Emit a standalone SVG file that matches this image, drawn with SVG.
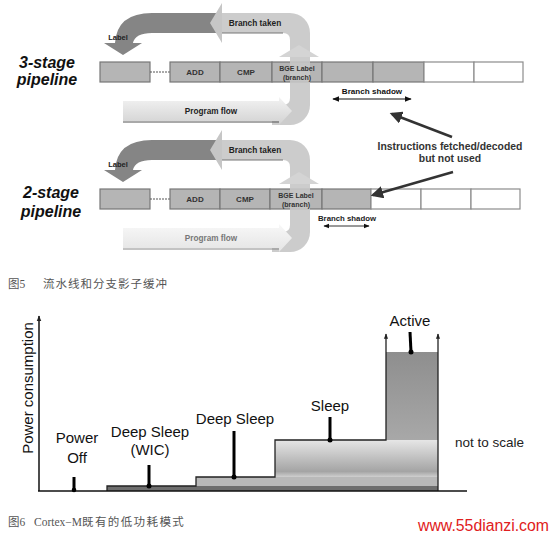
<svg xmlns="http://www.w3.org/2000/svg" width="553" height="537" viewBox="0 0 553 537">
<defs>
  <linearGradient id="pf" x1="0" y1="0" x2="0" y2="1"><stop offset="0" stop-color="#f3f3f3"/><stop offset="1" stop-color="#d2d2d2"/></linearGradient>
  <linearGradient id="pf2" x1="0" y1="0" x2="0" y2="1"><stop offset="0" stop-color="#f8f8f8"/><stop offset="1" stop-color="#e4e4e4"/></linearGradient>
  <linearGradient id="sleepG" x1="0" y1="0" x2="0" y2="1"><stop offset="0" stop-color="#e6e6e6"/><stop offset="0.85" stop-color="#a4a4a4"/><stop offset="1" stop-color="#cfcfcf"/></linearGradient>
  <linearGradient id="actG" x1="0" y1="0" x2="0" y2="1"><stop offset="0" stop-color="#8e8e8e"/><stop offset="1" stop-color="#a8a8a8"/></linearGradient>
  <marker id="ah" viewBox="0 0 10 10" refX="9" refY="5" markerWidth="6" markerHeight="6" orient="auto-start-reverse"><path d="M0,1 L10,5 L0,9 z" fill="#111"/></marker>
  <marker id="ahs" viewBox="0 0 10 10" refX="9" refY="5" markerWidth="4" markerHeight="4" orient="auto-start-reverse"><path d="M0,1 L10,5 L0,9 z" fill="#222"/></marker>
  <marker id="ahb" viewBox="0 0 10 10" refX="8" refY="5" markerWidth="5" markerHeight="5" orient="auto"><path d="M0,0 L10,5 L0,10 z" fill="#333"/></marker>
</defs>
<style>
  .box{fill:#b5b5b5;stroke:#777;stroke-width:1.2}
  .wbox{fill:#fff;stroke:#8c8c8c;stroke-width:1.2}
  .sans{font-family:"Liberation Sans",Arial,sans-serif}
  .b{font-weight:bold}
  .small{font-size:8px;fill:#333;font-weight:bold}
  .big{font-family:"Liberation Sans",Arial,sans-serif;font-weight:bold;font-style:italic;font-size:16px;fill:#111;text-anchor:middle}
  .dark{fill:#858585}
  .light{fill:#c6c6c6}
  .chart{font-family:"Liberation Sans",Arial,sans-serif;font-size:15px;fill:#111;text-anchor:middle}
  .ptr{stroke:#000;stroke-width:3}
  .cap{font-family:"Liberation Serif","Noto Sans CJK SC",serif;font-size:11.5px;fill:#555}
</style>
<rect width="553" height="537" fill="#fff"/>

<!-- ===== 3-stage pipeline ===== -->
<g id="title3">
  <text class="big" x="47" y="68">3-stage</text>
  <text class="big" x="47" y="85">pipeline</text>
</g>
<g id="row3">
  <rect class="box" x="100" y="62" width="50" height="20"/>
  <line x1="150" y1="72" x2="170" y2="72" stroke="#555" stroke-dasharray="2,1"/>
  <rect class="box" x="170" y="62" width="50" height="20"/>
  <rect class="box" x="220" y="62" width="52" height="20"/>
  <rect class="box" x="272" y="62" width="50" height="20"/>
  <rect class="box" x="322" y="62" width="51" height="20"/>
  <rect class="box" x="373" y="62" width="51" height="20"/>
  <rect class="wbox" x="424" y="62" width="50" height="20"/>
  <rect class="wbox" x="474" y="62" width="49" height="20"/>
</g>
<g id="arrows3">
  <path class="dark" d="M216,13 L152,13 Q117,13 115,43 L104,43 L123,55 L142,43 L133,43 Q135,33 152,33 L216,33 Z"/>
  <path class="light" opacity="0.9" d="M221,13 L290,13 A20,20 0 0 1 310,33 L310,105 A20,20 0 0 1 290,125 L272,125 L272,105 L283,105 Q290,105 290,98 L290,40 Q290,33 283,33 L221,33 Z"/>
  <path d="M221,33 L283,33" stroke="#777" stroke-width="1"/>
  <polygon class="light" points="210,23 222,3 222,43"/>
  <polygon fill="#d4d4d4" points="279,57 319,57 299,45"/>
  <path d="M123,101 L279,101 L279,97 L292,111 L279,125 L279,121 L123,121 Z" fill="url(#pf)"/>
  <line x1="123" y1="122" x2="279" y2="122" stroke="#555" stroke-width="1.2"/>
  <text class="sans b" x="118" y="40" font-size="7.5" fill="#222" text-anchor="middle">Label</text>
  <text class="sans b" x="255" y="26" font-size="8.3" fill="#222" text-anchor="middle">Branch taken</text>
  <text class="sans b" x="211" y="114" font-size="8.2" fill="#222" text-anchor="middle">Program flow</text>
</g>
<g id="rowtext3" class="sans small" text-anchor="middle">
  <text x="195" y="75">ADD</text>
  <text x="246" y="75">CMP</text>
  <text x="297" y="71" font-size="7">BGE Label</text>
  <text x="297" y="80" font-size="7">(branch)</text>
</g>
<g id="shadow3">
  <text class="sans b" x="372" y="94" font-size="8.1" fill="#111" text-anchor="middle">Branch shadow</text>
  <line x1="333" y1="99" x2="411" y2="99" stroke="#111" stroke-width="1.2" marker-start="url(#ah)" marker-end="url(#ah)"/>
</g>

<!-- ===== annotation ===== -->
<g id="note">
  <text class="sans b" x="450" y="150" font-size="10.4" fill="#333" text-anchor="middle">Instructions fetched/decoded</text>
  <text class="sans b" x="450" y="162" font-size="10.4" fill="#333" text-anchor="middle">but not used</text>
</g>

<!-- ===== 2-stage pipeline ===== -->
<g id="title2">
  <text class="big" x="51" y="198">2-stage</text>
  <text class="big" x="51" y="217">pipeline</text>
</g>
<g id="row2">
  <rect class="box" x="100" y="189" width="50" height="20"/>
  <line x1="150" y1="199" x2="170" y2="199" stroke="#555" stroke-dasharray="2,1"/>
  <rect class="box" x="170" y="189" width="50" height="20"/>
  <rect class="box" x="220" y="189" width="50" height="20"/>
  <rect class="box" x="270" y="189" width="52" height="20"/>
  <rect class="box" x="322" y="189" width="49" height="20"/>
  <rect class="wbox" x="371" y="189" width="50" height="20"/>
  <rect class="wbox" x="421" y="189" width="50" height="20"/>
  <rect class="wbox" x="471" y="189" width="49" height="20"/>
</g>
<g id="arrows2" transform="translate(0,127)">
  <path class="dark" d="M216,13 L152,13 Q117,13 115,43 L104,43 L123,55 L142,43 L133,43 Q135,33 152,33 L216,33 Z"/>
  <path class="light" opacity="0.9" d="M221,13 L290,13 A20,20 0 0 1 310,33 L310,105 A20,20 0 0 1 290,125 L272,125 L272,105 L283,105 Q290,105 290,98 L290,40 Q290,33 283,33 L221,33 Z"/>
  <path d="M221,33 L283,33" stroke="#777" stroke-width="1"/>
  <polygon class="light" points="210,23 222,3 222,43"/>
  <polygon fill="#d4d4d4" points="279,57 319,57 299,45"/>
  <path d="M123,101 L279,101 L279,97 L292,111 L279,125 L279,121 L123,121 Z" fill="url(#pf2)"/>
  <line x1="123" y1="122" x2="279" y2="122" stroke="#888" stroke-width="1.2"/>
  <text class="sans b" x="118" y="40" font-size="7.5" fill="#222" text-anchor="middle">Label</text>
  <text class="sans b" x="255" y="26" font-size="8.3" fill="#222" text-anchor="middle">Branch taken</text>
  <text class="sans b" x="211" y="114" font-size="8.2" fill="#777" text-anchor="middle">Program flow</text>
</g>
<g id="rowtext2" class="sans small" text-anchor="middle">
  <text x="195" y="202">ADD</text>
  <text x="245" y="202">CMP</text>
  <text x="296" y="198" font-size="7">BGE Label</text>
  <text x="296" y="207" font-size="7">(branch)</text>
</g>
<g id="shadow2">
  <text class="sans b" x="347" y="221" font-size="7.8" fill="#222" text-anchor="middle">Branch shadow</text>
  <line x1="324" y1="226" x2="369" y2="226" stroke="#333" stroke-width="1" marker-start="url(#ah)" marker-end="url(#ah)"/>
</g>

<g id="connectors">
  <line x1="452" y1="137" x2="392" y2="114" stroke="#333" stroke-width="2.5" marker-end="url(#ahb)"/>
  <line x1="453" y1="172" x2="373" y2="195" stroke="#333" stroke-width="2.5" marker-end="url(#ahb)"/>
</g>

<g id="caption5" class="cap">
  <text x="8" y="288">图5</text>
  <text x="43" y="288" textLength="124" lengthAdjust="spacing">流水线和分支影子缓冲</text>
</g>

<!-- ===== power chart ===== -->
<g id="chart">
  <rect x="107" y="486" width="331" height="5" fill="#6e6e6e"/>
  <rect x="196" y="477" width="242" height="9" fill="#b9b9b9"/>
  <rect x="275" y="440" width="163" height="37" fill="url(#sleepG)"/>
  <rect x="386" y="352" width="52" height="88" fill="url(#actG)"/>
  <path d="M107,491 V486 H196 V477 H275 V440 H386 V334" fill="none" stroke="#222" stroke-width="1.3" marker-end="url(#ahs)"/>
  <path d="M438,491 V334" fill="none" stroke="#222" stroke-width="1.3" marker-end="url(#ahs)"/>
  <line x1="39" y1="491" x2="39" y2="316" stroke="#111" stroke-width="1.5" marker-end="url(#ahs)"/>
  <line x1="38" y1="491" x2="467" y2="491" stroke="#111" stroke-width="1.5"/>
  <text class="chart" transform="translate(33,388) rotate(-90)" font-size="14">Power consumption</text>
</g>
<g id="powerOff">
  <text class="chart" x="77" y="443">Power</text>
  <text class="chart" x="77" y="463">Off</text>
  <line class="ptr" x1="74" y1="477" x2="74" y2="491"/>
  <circle cx="74" cy="490" r="2.3"/>
</g>
<g id="deepSleepWIC">
  <text class="chart" x="150" y="437">Deep Sleep</text>
  <text class="chart" x="150" y="455">(WIC)</text>
  <line class="ptr" x1="149" y1="465" x2="149" y2="486"/>
  <circle cx="149" cy="486" r="2.5"/>
</g>
<g id="deepSleep">
  <text class="chart" x="235" y="424">Deep Sleep</text>
  <line class="ptr" x1="234" y1="431" x2="234" y2="477"/>
  <circle cx="234" cy="477" r="2.5"/>
</g>
<g id="sleep">
  <text class="chart" x="330" y="411">Sleep</text>
  <line class="ptr" x1="330" y1="417" x2="330" y2="440"/>
  <circle cx="330" cy="440" r="2.5"/>
</g>
<g id="active">
  <text class="chart" x="410" y="326">Active</text>
  <line class="ptr" x1="410" y1="332" x2="411" y2="352"/>
  <circle cx="411" cy="352" r="2.5"/>
</g>
<g id="scaleNote">
  <text class="sans" x="455" y="447" font-size="13.5" fill="#222">not to scale</text>
</g>

<g id="caption6" class="cap">
  <text x="8" y="526">图6</text>
  <text x="34" y="526">Cortex−M<tspan letter-spacing="1.4">既有的低功耗模式</tspan></text>
</g>
<g id="watermark">
  <text class="sans" x="418" y="531" font-size="16" fill="#e02020" textLength="131" lengthAdjust="spacingAndGlyphs">www.55dianzi.com</text>
</g>
</svg>
